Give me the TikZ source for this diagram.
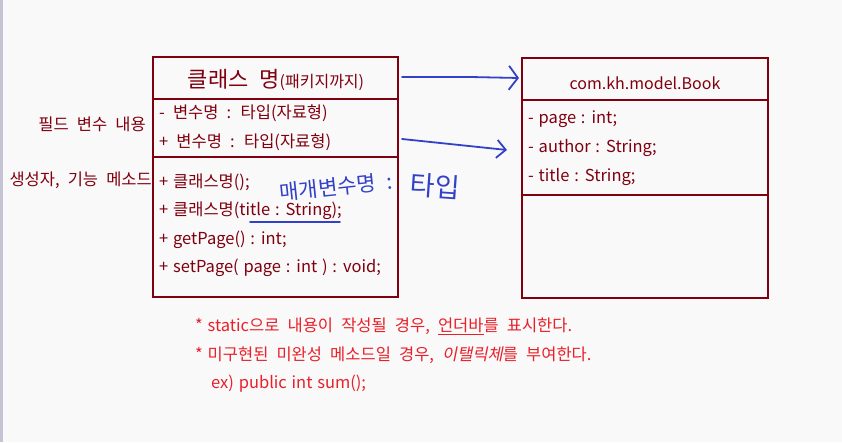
\documentclass[tikz,border=0pt]{standalone}
\usepackage{fontspec}
\setmainfont[WordSpace=2.2]{Noto Sans CJK KR}
\newfontfamily\latin[WordSpace=1.3]{Noto Sans CJK KR}
\newfontfamily\slantfont[FakeSlant=0.2,WordSpace=2.2]{Noto Sans CJK KR}
\usetikzlibrary{arrows.meta}

\definecolor{umlred}{RGB}{128,0,16}
\definecolor{notered}{RGB}{232,32,42}
\definecolor{penblue}{RGB}{50,65,200}
\definecolor{paper}{RGB}{249,249,249}

\begin{document}
\begin{tikzpicture}[x=1pt, y=1pt, every node/.style={inner sep=0pt}]
  \tikzset{box/.style={draw=umlred, line width=2.4pt, rectangle}}
  \tikzset{txt/.style={text=umlred, font=\fontsize{16.5}{19}\selectfont, anchor=west}}
  \tikzset{side/.style={text=umlred, font=\fontsize{16.5}{19}\selectfont, anchor=east}}
  \tikzset{note/.style={text=notered, font=\fontsize{16.5}{19}\selectfont, anchor=west}}
  \tikzset{pen/.style={draw=penblue, line width=1.8pt, line cap=round}}
  \tikzset{hand/.style={text=penblue, font=\fontsize{21}{23}\selectfont}}
  % page
  \fill[paper] (0,0) rectangle (842,442);
  \fill[blue!15!gray!40] (0,0) rectangle (2.5,442);
  \useasboundingbox (0,0) rectangle (842,442);
  % class boxes
  \node[box, minimum width=245pt, minimum height=240pt] (cls) at (275.5,265) {};
  \node[box, minimum width=246pt, minimum height=240pt] (book) at (645,264) {};
  \draw[box] (cls.west |- 0,343) -- (cls.east |- 0,343);
  \draw[box] (cls.west |- 0,285) -- (cls.east |- 0,285);
  \draw[box] (book.west |- 0,342) -- (book.east |- 0,342);
  \draw[box] (book.west |- 0,247) -- (book.east |- 0,247);
  % left class
  \node[text=umlred] (clsname) at (276,362) {\fontsize{22}{26}\selectfont 클래스 명\fontsize{16}{19}\selectfont(패키지까지)};
  \node[txt] (fld1) at (159,329) {- 변수명 : 타입(자료형)};
  \node[txt] (fld2) at (159,300) {+ 변수명 : 타입(자료형)};
  \node[txt] (mth1) at (159,260) {{\latin + }클래스명();};
  \node[txt] (mth2) at (159,231) {{\latin + }클래스명({\latin title : String});};
  \node[txt] (mth3) at (159,202) {\latin + getPage() : int;};
  \node[txt] (mth4) at (159,174) {\latin + setPage( page : int ) : void;};
  \node[side] (lblfld) at (146,318) {필드 변수 내용};
  \node[side] (lblmth) at (152,262) {생성자, 기능 메소드};
  % right class
  \node[text=umlred, font=\fontsize{16}{19}\selectfont\latin] (bookname) at (645,359) {com.kh.model.Book};
  \node[txt] (bfld1) at (528,323) {\latin - page : int;};
  \node[txt] (bfld2) at (528,294) {\latin - author : String;};
  \node[txt] (bfld3) at (528,265) {\latin - title : String;};
  % pen notes
  \coordinate (a1s) at (402,365);
  \coordinate (a1e) at (519,364);
  \coordinate (a2s) at (402,303);
  \coordinate (a2e) at (507,292);
  \draw[pen, -{Straight Barb[length=9pt, width=24pt, line width=1.8pt]}] (a1s) -- (470,365) -- (a1e);
  \draw[pen, -{Straight Barb[length=9pt, width=18pt, line width=1.8pt]}] (a2s) -- (a2e);
  \draw[pen] (250,220) -- (340,220);
  \node[hand, rotate=6] (param) at (336,255) {매개변수명 :};
  \node[hand, font=\fontsize{27}{29}\selectfont, rotate=-4] (ptype) at (435,256) {타입};
  % notes
  \node[note] (note1) at (195,116) {{\latin * static}으로 내용이 작성될 경우, \underline{언더바}를 표시한다.};
  \node[note] (note2) at (195,87) {{\latin * }미구현된 미완성 메소드일 경우, {\slantfont 이탤릭체}를 부여한다.};
  \node[note, font=\fontsize{16.5}{19}\selectfont\latin] (note3) at (211,58) {ex) public int sum();};
\end{tikzpicture}
\end{document}
